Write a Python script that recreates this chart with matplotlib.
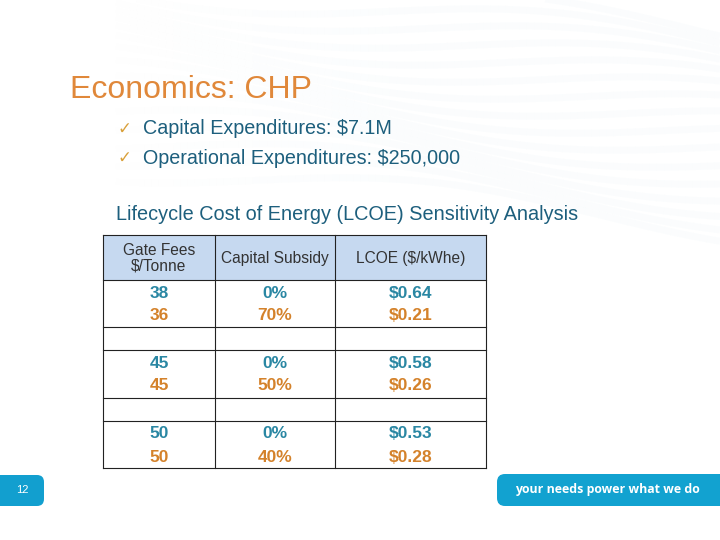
import numpy as np
import matplotlib
matplotlib.use("Agg")
from matplotlib import pyplot as plt
from matplotlib.patches import Rectangle, FancyBboxPatch

title = "Economics: CHP"
bullets = ["Capital Expenditures: $7.1M", "Operational Expenditures: $250,000"]
table_title = "Lifecycle Cost of Energy (LCOE) Sensitivity Analysis"
headers = ["Gate Fees\n$/Tonne", "Capital Subsidy", "LCOE ($/kWhe)"]
gate_fees = [(38, 36), (45, 45), (50, 50)]
subsidy = [("0%", "70%"), ("0%", "50%"), ("0%", "40%")]
lcoe = [("$0.64", "$0.21"), ("$0.58", "$0.26"), ("$0.53", "$0.28")]
page_no = "12"
tagline = "your needs power what we do"

plt.rcParams['font.family'] = ['Liberation Sans', 'DejaVu Sans']
fig = plt.figure(figsize=(7.2, 5.4), dpi=100)
ax = fig.add_axes([0, 0, 1, 1])
ax.set_xlim(0, 720)
ax.set_ylim(540, 0)
ax.axis("off")

# faint wavy background lines
xs = np.linspace(0, 720, 400)
for k in range(16):
    y0 = -40 + k * 13
    ys = y0 + 16 * np.sin((xs - 40 * k) / 110.0) + 0.10 * xs
    a = 0.06 * np.clip((xs[:-1] - 100) / 300, 0, 1)
    for i in range(0, len(xs) - 1, 4):
        ax.plot(xs[i:i + 5], ys[i:i + 5], color="#bfdcec", lw=5, alpha=a[i], solid_capstyle="butt")

blue = "#1d5f7d"
orange = "#e0883a"
ax.text(70, 90, title, color=orange, fontsize=23, va="center")
for i, b in enumerate(bullets):
    y = 129 + i * 29
    ax.text(117, y, "\u2713", color="#d9a03a", fontsize=12, va="center", family=["DejaVu Sans"])
    ax.text(143, y, b, color=blue, fontsize=14.2, va="center")
ax.text(116, 215, table_title, color=blue, fontsize=14.3, va="center")

# table
col_x = [103, 215, 335, 486]
row_y = [235, 280, 327, 350, 398, 421, 468]
ax.add_patch(Rectangle((col_x[0], row_y[0]), col_x[-1] - col_x[0], row_y[1] - row_y[0],
                       facecolor="#c6d9f0", edgecolor="none"))
ax.add_patch(Rectangle((col_x[0], row_y[1]), col_x[-1] - col_x[0], row_y[-1] - row_y[1],
                       facecolor="white", edgecolor="none"))
for x in col_x:
    ax.plot([x, x], [row_y[0], row_y[-1]], color="#222222", lw=0.8)
for y in row_y:
    ax.plot([col_x[0], col_x[-1]], [y, y], color="#222222", lw=0.8)
for j, h in enumerate(headers):
    cx = (col_x[j] + col_x[j + 1]) / 2
    ax.text(cx, 258, h, ha="center", va="center", fontsize=11.2, color="#333333", linespacing=1.0)

teal = "#2a87a3"
orng = "#d4822b"
columns = [gate_fees, subsidy, lcoe]
for r in range(3):
    top = row_y[1 + 2 * r]
    for j, col in enumerate(columns):
        cx = (col_x[j] + col_x[j + 1]) / 2
        ax.text(cx, top + 13, str(col[r][0]), ha="center", va="center", fontsize=12.5,
                fontweight="bold", color=teal)
        ax.text(cx, top + 36, str(col[r][1]), ha="center", va="center", fontsize=12.5,
                fontweight="bold", color=orng)

# footer
ax.add_patch(FancyBboxPatch((-20, 475), 64, 31, boxstyle="round,pad=0,rounding_size=7",
                            facecolor="#129fcf", edgecolor="none"))
ax.text(22, 490, page_no, color="white", fontsize=8, ha="center", va="center")
ax.add_patch(FancyBboxPatch((497, 474), 260, 32, boxstyle="round,pad=0,rounding_size=8",
                            facecolor="#12a2d0", edgecolor="none"))
ax.text(515, 490, tagline, color="white", fontsize=8.9, fontweight="bold", va="center",
        family=["Open Sans", "DejaVu Sans"])

fig.savefig("out.png", dpi=100)
